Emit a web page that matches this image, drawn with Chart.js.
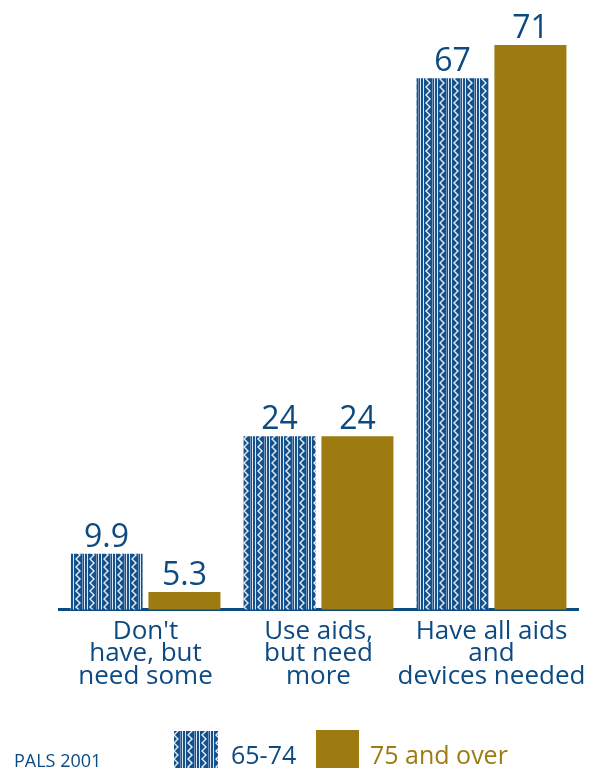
<!DOCTYPE html>
<html>
<head>
<meta charset="utf-8">
<script src="https://cdn.jsdelivr.net/npm/chart.js@4"></script>
<style>
  html, body { margin: 0; padding: 0; background: #ffffff; }
  #wrap { width: 596px; height: 769px; position: relative; }
</style>
</head>
<body>
<div id="wrap"><canvas id="chart" width="596" height="769"></canvas></div>
<script>
// Assistive aids and devices, by age group (percent)
const categories = [
  ["Don't", "have, but", "need some"],
  ["Use aids,", "but need", "more"],
  ["Have all aids", "and", "devices needed"]
];
const seriesNames = ["65-74", "75 and over"];
const ages65to74 = [9.9, 24, 67];
const ages75plus = [5.3, 24, 71];
const sourceNote = "PALS 2001";

const NAVY = '#0c4a82';
const GOLD = '#9e7b10';
const FONT = "'Open Sans', 'DejaVu Sans', sans-serif";

const canvas = document.getElementById('chart');
const ctx = canvas.getContext('2d');

// Woven stripe fill: light rules and a white zigzag on navy
function makeWovenPattern(context) {
  const tile = document.createElement('canvas');
  tile.width = 14;
  tile.height = 8;
  const g = tile.getContext('2d');
  g.fillStyle = '#13508c';
  g.fillRect(0, 0, 14, 8);
  g.fillStyle = '#dfe8f2';
  g.fillRect(0, 0, 1, 8);
  g.fillRect(3, 0, 1, 8);
  g.fillStyle = 'rgba(200,215,232,0.5)';
  g.fillRect(12, 0, 1, 8);
  g.strokeStyle = '#e8eff7';
  g.lineWidth = 1.4;
  g.beginPath();
  g.moveTo(6, -1);
  g.lineTo(10, 3);
  g.lineTo(6, 7);
  g.lineTo(10, 11);
  g.stroke();
  g.beginPath();
  g.moveTo(10, -5);
  g.lineTo(6, -1);
  g.stroke();
  return context.createPattern(tile, 'repeat');
}
const woven = makeWovenPattern(ctx);

// Value labels above each bar
const valueLabels = {
  id: 'valueLabels',
  afterDatasetsDraw(chart) {
    const c = chart.ctx;
    c.save();
    c.font = '32px ' + FONT;
    c.fillStyle = NAVY;
    c.textAlign = 'center';
    c.textBaseline = 'alphabetic';
    chart.data.datasets.forEach((ds, i) => {
      chart.getDatasetMeta(i).data.forEach((bar, j) => {
        c.fillText(String(ds.data[j]), bar.x, bar.y - 7);
      });
    });
    c.restore();
  }
};

// Legend row and source note along the bottom
const bottomKey = {
  id: 'bottomKey',
  afterDraw(chart) {
    const c = chart.ctx;
    const ds = chart.data.datasets;
    c.save();
    c.textBaseline = 'alphabetic';
    c.textAlign = 'left';

    c.fillStyle = ds[0].backgroundColor;
    c.fillRect(174, 731, 44, 37);
    c.font = '25px ' + FONT;
    c.fillStyle = NAVY;
    c.fillText(ds[0].label, 231, 764);

    c.fillStyle = ds[1].backgroundColor;
    c.fillRect(316, 730, 43, 38);
    c.fillStyle = GOLD;
    c.fillText(ds[1].label, 370, 764);

    c.font = '18px ' + FONT;
    c.fillStyle = NAVY;
    c.fillText(sourceNote, 14, 767);
    c.restore();
  }
};

new Chart(ctx, {
  type: 'bar',
  data: {
    labels: categories,
    datasets: [
      { label: seriesNames[0], data: ages65to74, backgroundColor: woven, borderWidth: 0 },
      { label: seriesNames[1], data: ages75plus, backgroundColor: GOLD, borderWidth: 0 }
    ]
  },
  options: {
    responsive: false,
    devicePixelRatio: 1,
    animation: false,
    layout: { padding: { left: 59, right: 18, top: 0, bottom: 40 } },
    datasets: { bar: { categoryPercentage: 0.9, barPercentage: 0.925 } },
    plugins: { legend: { display: false }, tooltip: { enabled: false } },
    scales: {
      x: {
        grid: { display: false, drawTicks: false },
        border: { display: true, color: NAVY, width: 3 },
        ticks: {
          color: NAVY,
          font: { family: FONT, size: 26, lineHeight: 0.86 },
          padding: 11,
          maxRotation: 0,
          autoSkip: false
        },
        afterFit(scale) {
          scale.height = 119.5;
          scale.paddingLeft = 0;
          scale.paddingRight = 0;
        }
      },
      y: {
        display: false,
        min: 3.2,
        max: 76.4
      }
    }
  },
  plugins: [valueLabels, bottomKey]
});
</script>
</body>
</html>
